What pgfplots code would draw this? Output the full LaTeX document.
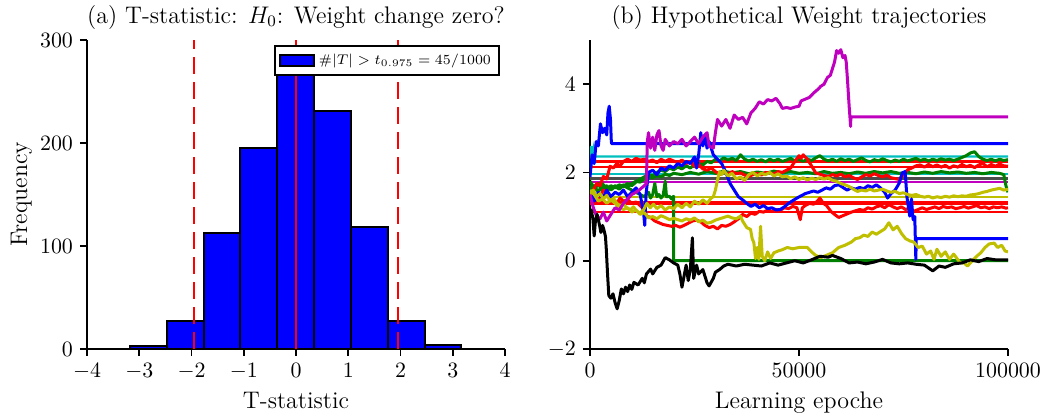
\documentclass[border=0pt]{standalone}
\usepackage{pgfplots}
\pgfplotsset{compat=1.18}

\definecolor{mplgreen}{rgb}{0,0.5,0}
\definecolor{mplcyan}{rgb}{0,0.75,0.75}
\definecolor{mplmag}{rgb}{0.75,0,0.75}
\definecolor{mplyel}{rgb}{0.75,0.75,0}

\pgfplotsset{
  panel/.style={
    scale only axis, width=209pt, height=154.5pt,
    axis lines*=left,
    axis line style={line width=1pt, black},
    tick align=outside,
    major tick length=3.5pt,
    tick style={black, line width=0.8pt},
    tick label style={font=\fontsize{10.5}{12}\selectfont},
    every axis title shift=0pt,
    title style={at={(axis description cs:0.5,1.055)}, anchor=base, font=\fontsize{12}{14}\selectfont},
    every axis x label/.style={at={(axis description cs:0.5,-0.194)}, anchor=base, font=\fontsize{12}{14}\selectfont},
    every axis y label/.style={at={(axis description cs:-0.1435,0.5)}, rotate=90, anchor=base, font=\fontsize{12}{14}\selectfont},
  },
  traj/.style={line width=1.5pt, line join=round},
  flat/.style={line width=1.2pt},
}

\begin{document}
\begin{tikzpicture}

% ---------------- (a) histogram of T-statistics ----------------
\begin{axis}[panel,
  xmin=-4, xmax=4, ymin=0, ymax=300,
  xtick={-4,-3,-2,-1,0,1,2,3,4}, ytick={0,100,200,300},
  title={(a) T-statistic: $H_0$: Weight change zero?},
  xlabel={T-statistic}, ylabel={Frequency},
  legend style={at={(axis description cs:0.988,0.984)}, anchor=north east,
    draw=black, line width=1pt, font=\fontsize{7.5}{9}\selectfont,
    inner xsep=2pt, inner ysep=2pt},
]
\addplot[ybar interval, fill=blue, draw=black, line width=1pt,
  legend image code/.code={\draw[fill=blue, draw=black, line width=1pt] (0pt,-2.75pt) rectangle (17pt,2.75pt);}]
  coordinates {(-3.18,3) (-2.475,27) (-1.77,113) (-1.065,195) (-0.36,282)
               (0.345,231) (1.05,118) (1.755,27) (2.46,4) (3.165,4)};
\addlegendentry{$\#|T| > t_{0.975} = 45/1000$}
\addplot[forget plot, red, line width=1pt, dash pattern=on 8.5pt off 4pt] coordinates {(-1.96,0) (-1.96,300)};
\addplot[forget plot, red, line width=1pt, dash pattern=on 8.5pt off 4pt] coordinates {(1.96,0) (1.96,300)};
\addplot[forget plot, red, line width=1pt] coordinates {(0,0) (0,300)};
\end{axis}

% ---------------- (b) weight trajectories ----------------
\begin{axis}[panel, at={(251.5pt,0pt)},
  xmin=0, xmax=100000, ymin=-2, ymax=5,
  xtick={0,50000,100000}, xticklabels={$0$,$50000$,$100000$},
  scaled x ticks=false,
  ytick={-2,0,2,4},
  title={(b) Hypothetical Weight trajectories},
  xlabel={Learning epoche},
]
% weights frozen from the start
\addplot[flat, mplcyan] coordinates {(0,2.1) (300,2.6) (600,2.4) (900,2.55) (1200,2.36) (100000,2.36)};
\addplot[flat, red] coordinates {(0,2.25) (100000,2.25)};
\addplot[flat, red] coordinates {(0,2.12) (100000,2.12)};
\addplot[flat, mplcyan] coordinates {(0,1.96) (100000,1.96)};
\addplot[flat, black!70] coordinates {(0,1.86) (100000,1.86)};
\addplot[flat, mplmag] coordinates {(0,1.79) (100000,1.79)};
\addplot[flat, mplyel] coordinates {(0,1.44) (100000,1.44)};
\addplot[flat, red] coordinates {(0,1.33) (100000,1.33)};
\addplot[flat, red] coordinates {(0,1.28) (100000,1.28)};
\addplot[flat, red] coordinates {(0,1.10) (100000,1.10)};

% green trajectory frozen at zero after 20000 epochs
\addplot[traj, mplgreen] coordinates {(0,1.7) (1000,1.6) (2000,1.75) (3000,1.65) (4000,1.7) (5000,1.6) (6000,1.68) (7000,1.62) (8000,1.7) (9000,1.65) (10000,1.6) (11000,1.55) (12000,1.5) (13000,1.45) (14000,1.55) (14500,1.42) (15000,1.5) (15500,1.75) (16000,1.45) (16500,1.5) (17000,1.42) (17500,1.48) (18000,1.8) (18300,1.45) (19000,1.46) (19500,1.4) (20000,1.46) (20000,0.0) (100000,0.0)};

% green trajectories
\addplot[traj, mplgreen] coordinates {(0,1.6) (1000,1.7) (2000,1.55) (3000,1.75) (4000,1.6) (5000,1.7) (6000,1.65) (7000,1.72) (8000,1.68) (9000,1.75) (10000,1.7) (11000,1.78) (12000,1.85) (13000,1.9) (14000,1.95) (15000,1.92) (16000,2.0) (17000,2.05) (18000,2.02) (19000,2.1) (20000,2.06) (21000,2.12) (22000,2.08) (23000,2.15) (24000,2.1) (25000,2.18) (26000,2.2) (27000,2.17) (28000,2.25) (29000,2.22) (30000,2.3) (31000,2.26) (32000,2.33) (33000,2.28) (34000,2.32) (35000,2.27) (36000,2.4) (37000,2.3) (38000,2.26) (39000,2.3) (40000,2.25) (41000,2.29) (42000,2.24) (43000,2.3) (44000,2.26) (45000,2.3) (46000,2.25) (47000,2.28) (48000,2.32) (49000,2.26) (50000,2.3) (51000,2.25) (52000,2.3) (53000,2.27) (54000,2.33) (55000,2.38) (56000,2.3) (57000,2.26) (58000,2.3) (59000,2.25) (60000,2.31) (61000,2.27) (62000,2.3) (63000,2.25) (64000,2.29) (65000,2.33) (66000,2.27) (67000,2.24) (68000,2.29) (69000,2.26) (70000,2.31) (71000,2.27) (72000,2.24) (73000,2.28) (74000,2.25) (75000,2.3) (76000,2.26) (77000,2.29) (78000,2.32) (79000,2.27) (80000,2.3) (81000,2.26) (82000,2.3) (83000,2.27) (84000,2.31) (85000,2.28) (86000,2.3) (87000,2.27) (88000,2.3) (89000,2.34) (90000,2.38) (91000,2.44) (92000,2.47) (93000,2.36) (94000,2.3) (95000,2.27) (96000,2.3) (97000,2.26) (98000,2.3) (99000,2.27) (100000,2.29)};
\addplot[traj, mplgreen] coordinates {(0,1.8) (1000,1.65) (2000,1.72) (3000,1.6) (4000,1.68) (5000,1.62) (6000,1.7) (7000,1.65) (8000,1.72) (9000,1.68) (10000,1.75) (11000,1.8) (12000,1.78) (13000,1.85) (14000,1.9) (15000,1.88) (16000,1.93) (17000,1.9) (18000,1.96) (19000,1.93) (20000,1.98) (22000,1.95) (24000,2.0) (26000,1.96) (28000,2.02) (30000,1.98) (32000,2.03) (34000,1.99) (36000,2.02) (38000,1.97) (40000,2.01) (42000,1.98) (44000,2.03) (46000,1.99) (48000,2.02) (50000,1.98) (52000,2.0) (54000,1.97) (56000,2.02) (58000,1.98) (60000,2.0) (62000,1.97) (64000,2.01) (66000,1.98) (68000,2.02) (70000,1.99) (72000,2.02) (74000,1.98) (76000,2.0) (78000,1.97) (80000,2.01) (82000,1.98) (84000,2.02) (86000,1.99) (88000,2.01) (90000,1.98) (92000,2.0) (94000,1.97) (96000,2.0) (98000,1.98) (99000,1.95) (99500,1.7) (100000,1.55)};

% red trajectories
\addplot[traj, red] coordinates {(0,1.4) (800,1.6) (1600,1.75) (2400,1.7) (3200,1.91) (4000,1.85) (4800,2.14) (5600,2.1) (6400,2.2) (7200,2.15) (8000,2.25) (9000,2.3) (10000,2.25) (11000,2.32) (12000,2.28) (13000,2.3) (14000,2.25) (15000,2.28) (16000,2.22) (17000,2.3) (18000,2.25) (19000,2.3) (20000,2.26) (21000,2.22) (22000,2.28) (23000,2.2) (24000,2.25) (25000,2.14) (26000,2.18) (27000,2.08) (28000,2.05) (29000,2.1) (30000,2.02) (31000,1.95) (32000,2.0) (33000,1.96) (34000,2.02) (35000,1.97) (36000,1.99) (37000,1.94) (38000,1.91) (39000,1.95) (40000,1.98) (41000,1.94) (42000,2.0) (43000,1.99) (44000,1.96) (45000,2.02) (46000,2.0) (47000,2.05) (48000,2.1) (49000,2.25) (50000,2.38) (50500,2.32) (51000,2.4) (52000,2.3) (53000,2.15) (54000,1.99) (55000,1.96) (56000,1.93) (57000,1.91) (58000,1.95) (59000,1.92) (60000,1.96) (61000,1.9) (62000,1.93) (63000,1.88) (64000,1.84) (65000,1.9) (66000,1.95) (67000,1.92) (68000,1.97) (69000,1.93) (70000,1.9) (71000,1.94) (72000,1.88) (73000,1.86) (74000,1.84) (75000,1.95) (76000,2.06) (77000,2.1) (78000,2.15) (79000,2.17) (80000,2.12) (81000,2.18) (82000,2.13) (83000,2.17) (84000,2.12) (85000,2.16) (86000,2.1) (87000,2.15) (88000,2.12) (89000,2.18) (90000,2.13) (91000,2.16) (92000,2.11) (93000,2.17) (94000,2.2) (95000,2.13) (96000,2.18) (97000,2.14) (98000,2.19) (99000,2.15) (100000,2.14)};
\addplot[traj, red] coordinates {(0,1.38) (800,1.5) (1600,1.3) (2400,1.45) (3200,1.6) (4000,1.55) (4800,1.45) (5600,1.4) (6400,1.3) (7200,1.42) (8000,1.35) (9000,1.38) (10000,1.3) (11000,1.33) (12000,1.25) (13000,1.15) (13600,1.01) (14500,0.98) (15500,0.9) (16500,0.86) (17500,0.82) (18500,0.8) (19500,0.78) (20500,0.8) (21500,0.76) (22500,0.8) (23500,0.85) (24500,0.9) (25500,0.92) (26500,0.88) (27500,0.8) (28500,0.75) (29500,0.78) (30500,0.72) (31500,0.8) (32500,0.78) (33500,0.82) (34500,0.88) (35500,0.95) (36500,1.05) (37500,1.0) (38500,1.08) (39500,1.05) (40500,1.12) (41500,1.1) (42500,1.15) (43500,1.12) (44500,1.16) (45500,1.14) (46500,1.2) (47500,1.18) (48500,1.23) (49500,1.2) (50300,0.93) (50800,1.2) (51500,1.25) (52500,1.3) (53500,1.28) (54400,1.35) (55000,1.42) (55800,1.3) (56600,1.25) (57600,1.12) (58500,1.05) (59500,0.98) (60500,1.02) (61500,1.06) (62500,1.1) (63500,1.13) (64500,1.16) (65500,1.14) (66500,1.2) (67500,1.17) (68500,1.22) (69500,1.25) (70500,1.2) (71500,1.27) (72500,1.22) (73500,1.18) (74500,1.22) (75500,1.16) (76500,1.2) (77500,1.12) (78500,1.16) (79500,1.2) (80500,1.16) (81500,1.19) (82500,1.22) (83500,1.18) (84500,1.23) (85500,1.2) (86500,1.22) (87500,1.18) (88500,1.2) (89500,1.23) (90500,1.19) (91500,1.22) (92500,1.25) (93500,1.2) (94500,1.22) (95500,1.18) (96500,1.22) (97500,1.2) (98500,1.22) (99500,1.19) (100000,1.2)};

% blue trajectories
\addplot[traj, blue] coordinates {(0,1.9) (500,2.4) (1000,2.2) (1500,2.7) (2000,2.6) (2500,3.1) (3000,2.9) (3500,3.0) (4000,2.85) (4300,3.35) (4600,3.5) (4900,3.2) (5100,2.7) (5200,2.65) (100000,2.65)};
\addplot[traj, blue] coordinates {(0,1.6) (1000,1.35) (2000,1.55) (3000,1.4) (4000,1.6) (5000,1.45) (6000,1.55) (7000,1.5) (8000,1.6) (9000,1.45) (10000,1.55) (11000,1.65) (12000,1.5) (12800,1.1) (13100,0.8) (13400,1.5) (14000,2.0) (15000,2.05) (16000,1.95) (17000,2.1) (18000,2.05) (19000,2.15) (20000,2.1) (21000,2.2) (22000,2.15) (23000,2.25) (24000,2.2) (25000,2.35) (25500,2.1) (26000,2.4) (26500,2.9) (27000,2.6) (27500,2.85) (28000,2.55) (28500,2.7) (29500,2.4) (30500,2.3) (31500,2.2) (32500,2.0) (33500,1.75) (34500,1.6) (35500,1.45) (36500,1.38) (37500,1.3) (38500,1.23) (39500,1.28) (40500,1.2) (41500,1.25) (42500,1.18) (43500,1.2) (44500,1.15) (45500,1.16) (46500,1.22) (47500,1.3) (48500,1.36) (49500,1.42) (50500,1.47) (51500,1.52) (52500,1.55) (53500,1.58) (54500,1.55) (55500,1.6) (56500,1.65) (57500,1.62) (58500,1.7) (59500,1.72) (60500,1.66) (61500,1.6) (62500,1.65) (63500,1.62) (64500,1.66) (65500,1.63) (66500,1.7) (67500,1.66) (68500,1.72) (69500,1.65) (70500,1.55) (71200,1.42) (72000,1.52) (73000,1.6) (74000,1.76) (74700,1.99) (75400,2.02) (75800,1.46) (76500,1.01) (76900,1.4) (77300,0.93) (77700,1.0) (77950,0.03) (78050,0.5) (100000,0.5)};

% yellow trajectories
\addplot[traj, mplyel] coordinates {(0,1.5) (800,1.6) (1600,1.45) (2400,1.52) (3200,1.4) (4000,1.48) (4800,1.35) (5600,1.42) (6400,1.3) (7200,1.25) (8000,1.28) (8800,1.2) (9600,1.15) (10400,1.22) (11200,1.12) (12000,1.08) (12800,1.15) (13600,1.3) (14400,1.2) (15200,1.28) (16000,1.18) (17000,1.25) (18000,1.15) (19000,1.22) (20000,1.18) (21000,1.28) (22000,1.2) (23000,1.3) (24000,1.22) (25000,1.35) (26000,1.28) (27000,1.38) (28000,1.3) (29000,1.42) (29500,1.45) (30000,1.6) (30500,1.83) (31000,2.02) (31500,1.95) (32000,2.05) (33000,1.92) (34000,1.98) (35000,1.85) (36000,1.9) (37000,1.82) (38000,1.95) (39000,2.0) (40000,1.92) (41000,1.98) (42000,1.95) (43000,2.0) (44000,1.92) (45000,1.97) (46000,1.9) (47000,1.92) (48000,1.86) (49000,1.9) (50000,1.84) (51000,1.88) (52000,1.83) (53000,1.87) (54000,1.84) (55000,1.88) (56000,1.85) (57000,1.88) (58000,1.82) (59000,1.8) (60000,1.75) (61000,1.72) (62000,1.68) (63000,1.62) (64000,1.57) (65000,1.6) (66000,1.58) (67000,1.62) (68000,1.58) (69000,1.6) (70000,1.62) (71000,1.58) (72000,1.55) (73000,1.57) (74000,1.52) (75000,1.54) (76000,1.5) (77000,1.48) (78000,1.5) (79000,1.46) (80000,1.44) (81000,1.46) (82000,1.42) (83000,1.45) (84000,1.43) (85000,1.46) (86000,1.44) (87000,1.47) (88000,1.45) (89000,1.47) (90000,1.46) (91000,1.49) (92000,1.5) (93000,1.52) (94000,1.55) (95000,1.57) (96000,1.6) (97000,1.62) (98000,1.64) (99000,1.6) (100000,1.62)};
\addplot[traj, mplyel] coordinates {(0,1.6) (1000,1.5) (2000,1.35) (3000,1.4) (4000,1.3) (5000,1.38) (6000,1.3) (7000,1.2) (8000,1.16) (9000,1.2) (10000,1.1) (11000,1.15) (12000,1.05) (13000,1.09) (14000,0.97) (15000,1.0) (16000,0.95) (17000,1.02) (18000,0.98) (19000,0.93) (20000,0.96) (21000,0.93) (22000,0.9) (23000,0.95) (24000,0.92) (25000,0.97) (26000,0.88) (27000,0.92) (28000,0.85) (29000,0.87) (30000,0.92) (31000,0.95) (32000,0.98) (33000,1.01) (34000,0.97) (35000,0.95) (36000,1.01) (36500,0.9) (37500,0.75) (38400,0.71) (38800,0.5) (39200,0.41) (39600,0.05) (40000,0.3) (40400,0.03) (40800,0.78) (41200,0.1) (41800,0.0) (42500,0.2) (43200,0.05) (44000,0.18) (45000,0.22) (46000,0.25) (47200,0.3) (48500,0.27) (50000,0.3) (52000,0.3) (53000,0.2) (54000,0.12) (55200,0.07) (56500,0.12) (58000,0.18) (59500,0.3) (61000,0.35) (62500,0.42) (63500,0.5) (64500,0.52) (65500,0.58) (66500,0.55) (67500,0.65) (68500,0.6) (69500,0.66) (70500,0.72) (71500,0.86) (72500,0.7) (73500,0.78) (74500,0.62) (75500,0.5) (76500,0.45) (77500,0.42) (78500,0.3) (79500,0.33) (80500,0.15) (81500,0.22) (82300,0.03) (83000,0.26) (84000,0.1) (85000,0.2) (86000,0.03) (87000,0.15) (88500,-0.04) (89500,-0.05) (90300,-0.12) (91500,0.0) (92500,0.1) (93500,0.18) (94500,0.3) (95500,0.38) (96700,0.4) (97500,0.3) (98500,0.35) (99300,0.22) (100000,0.2)};

% magenta trajectory, frozen after about 62000 epochs
\addplot[traj, mplmag] coordinates {(0,1.5) (800,1.2) (1600,1.0) (2400,0.95) (3200,1.1) (4000,0.9) (5000,1.05) (6000,1.2) (7000,1.15) (8000,1.3) (9000,1.4) (10000,1.5) (11000,1.55) (12000,1.62) (13000,1.7) (13500,1.75) (13700,2.7) (14000,2.9) (14500,2.55) (15000,2.8) (15500,2.5) (16000,2.85) (16500,2.95) (17000,2.6) (17500,2.5) (18000,2.75) (19000,2.6) (20000,2.7) (21000,2.65) (22000,2.75) (23000,2.6) (24000,2.7) (25000,2.8) (26000,2.65) (27000,2.8) (28000,2.9) (28500,2.6) (29500,2.55) (30000,2.9) (30500,3.2) (31500,3.05) (32500,3.2) (33500,3.0) (34500,3.3) (35500,3.2) (36500,3.25) (37500,3.1) (38500,3.35) (39500,3.45) (40500,3.6) (41500,3.55) (42500,3.65) (43500,3.62) (44500,3.68) (45500,3.55) (46000,3.45) (47000,3.47) (48000,3.45) (49000,3.48) (50000,3.5) (50500,3.62) (51500,3.66) (52500,3.7) (53500,3.8) (54500,3.88) (55200,3.95) (56000,4.0) (56800,4.15) (57500,4.2) (58000,4.35) (58500,4.5) (59000,4.76) (59500,4.7) (60000,4.78) (60500,4.6) (61000,4.65) (61300,4.5) (61600,4.1) (62000,3.5) (62350,3.04) (62400,3.26) (100000,3.26)};

% black trajectory
\addplot[traj, black] coordinates {(0,1.0) (300,1.15) (700,0.95) (1000,0.56) (1300,0.9) (1700,1.05) (2000,0.93) (2400,0.75) (2600,0.64) (3000,0.8) (3300,0.71) (3700,0.55) (3900,0.26) (4200,-0.3) (4500,-0.79) (5000,-0.85) (5500,-0.75) (6000,-0.95) (6500,-1.09) (7000,-0.9) (7500,-0.64) (8000,-0.75) (8500,-0.6) (9000,-0.7) (9500,-0.55) (10000,-0.65) (10500,-0.49) (11500,-0.55) (12500,-0.4) (13000,-0.5) (13500,-0.3) (14500,-0.19) (15000,-0.3) (16000,-0.15) (17000,-0.1) (18000,0.07) (19000,0.02) (20000,-0.05) (21000,-0.1) (21500,-0.3) (22000,-0.6) (22500,-0.35) (23000,-0.1) (23500,-0.45) (24000,-0.2) (24500,0.52) (24800,-0.4) (25500,-0.1) (26000,-0.3) (27000,-0.2) (28000,-0.5) (28500,-0.57) (29500,-0.4) (30000,-0.26) (31000,-0.2) (32000,-0.12) (33000,-0.08) (35000,-0.12) (37000,-0.08) (39000,-0.1) (41000,-0.12) (43000,-0.05) (45000,-0.1) (47000,-0.05) (49000,0.0) (51000,-0.05) (53000,0.02) (55000,0.1) (57000,0.08) (58000,0.12) (60000,0.05) (62000,-0.05) (64000,-0.03) (66000,-0.07) (68000,-0.03) (70000,0.03) (72000,-0.05) (74000,-0.07) (76000,-0.05) (78000,-0.08) (80000,-0.1) (82000,-0.23) (83500,-0.12) (85000,-0.15) (87000,-0.07) (89000,-0.05) (91000,0.02) (93000,-0.02) (95000,0.05) (97000,0.02) (100000,0.02)};
\end{axis}

\pgfresetboundingbox
\path[use as bounding box] (-43.5pt,-34.5pt) rectangle (477pt,174.5pt);
\end{tikzpicture}
\end{document}
